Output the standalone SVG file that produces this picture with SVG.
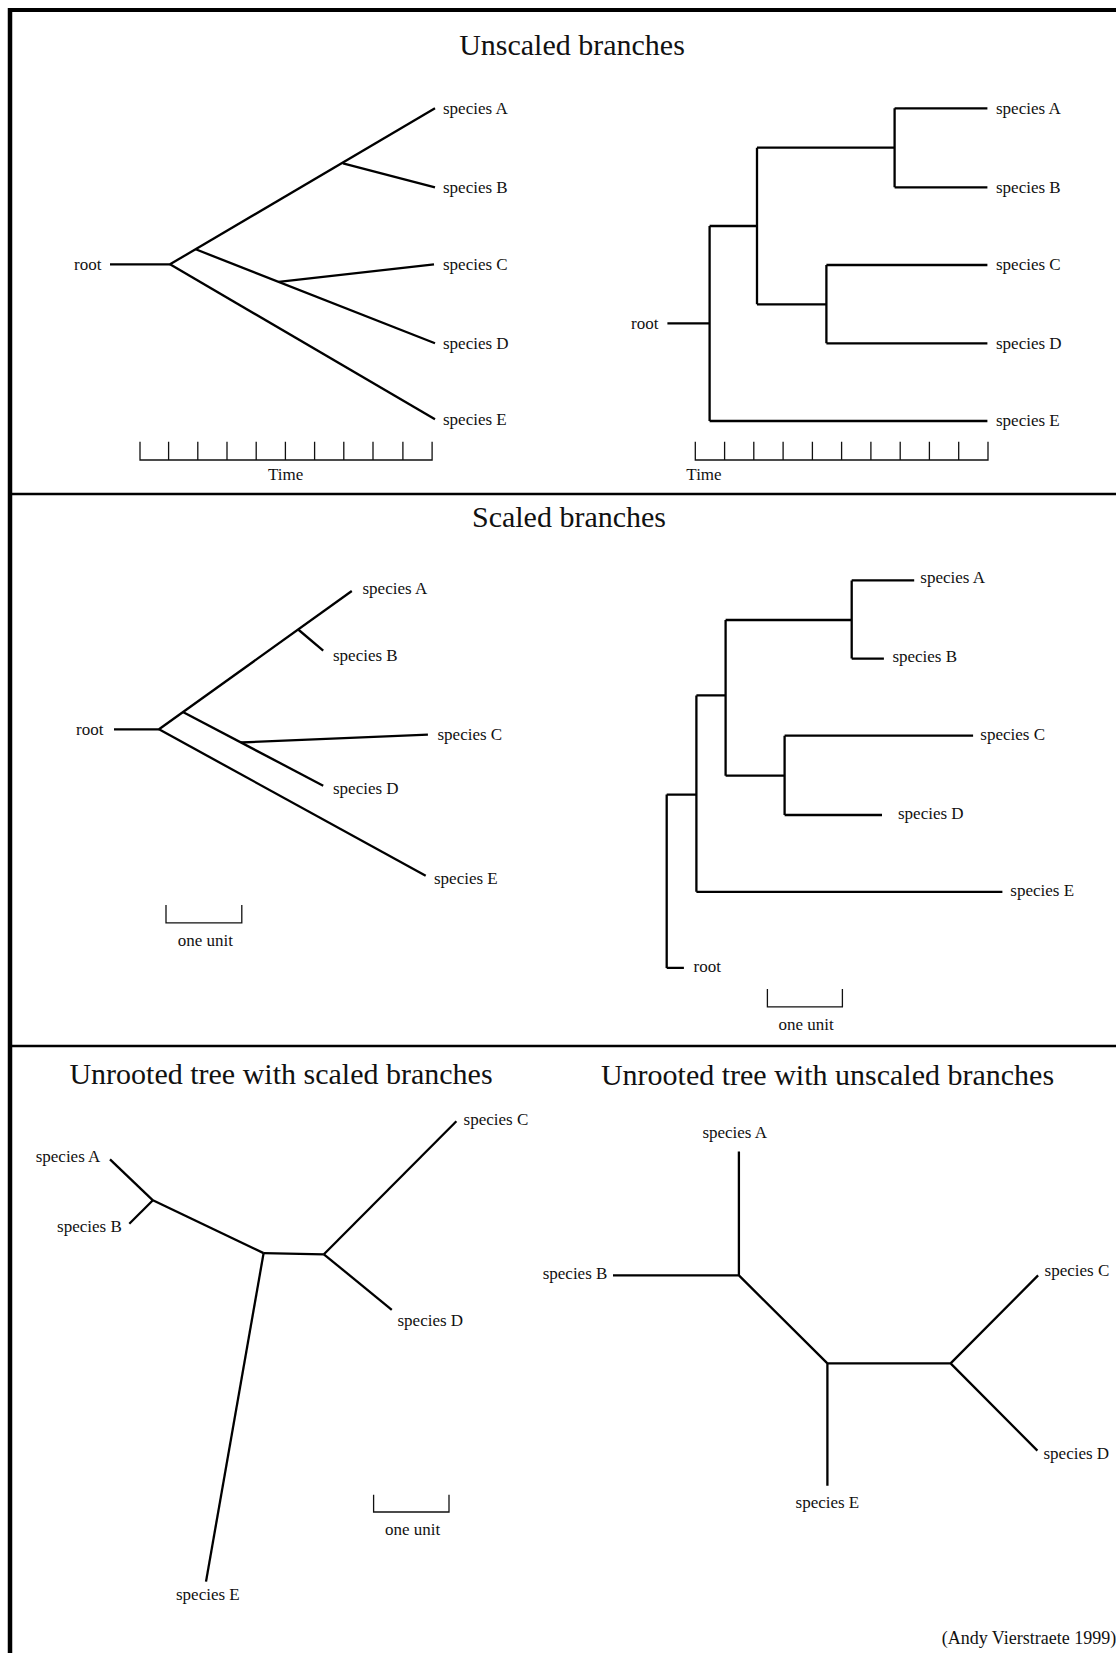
<svg xmlns="http://www.w3.org/2000/svg" width="1116" height="1653" viewBox="0 0 1116 1653">
<style>
text{font-family:"Liberation Serif","Times New Roman",serif;fill:#111}
.lbl{font-size:17px}
.ttl{font-size:30px;text-anchor:middle}
.mid{text-anchor:middle}
.br{stroke:#000;stroke-width:2.3;fill:none;stroke-linecap:butt}
.sc{stroke:#111;stroke-width:1.3;fill:none}
.frame{stroke:#000;fill:none}
</style>
<rect x="0" y="0" width="1116" height="1653" fill="#fff"/>
<g id="frame">
<line class="frame" x1="8" y1="10" x2="1116" y2="10" stroke-width="4"/>
<line class="frame" x1="10" y1="8" x2="10" y2="1653" stroke-width="4.5"/>
<line class="frame" x1="10" y1="494" x2="1116" y2="494" stroke-width="2.5"/>
<line class="frame" x1="10" y1="1046" x2="1116" y2="1046" stroke-width="2.5"/>
</g>

<!-- Panel 1: Unscaled branches -->
<text class="ttl" x="572" y="55">Unscaled branches</text>
<g id="p1-left">
<g id="p1l-connectors">
<line class="br" x1="110" y1="264.3" x2="170" y2="264.3"/>
<line class="br" x1="170" y1="264.3" x2="435" y2="108.3"/>
<line class="br" x1="343" y1="163.3" x2="435" y2="187.3"/>
<line class="br" x1="195.7" y1="249.3" x2="435" y2="343.3"/>
<line class="br" x1="278.6" y1="281.8" x2="434" y2="264.3"/>
<line class="br" x1="170" y1="264.3" x2="435" y2="419.3"/>
</g>
<g id="p1l-root"><text class="lbl" x="74" y="270">root</text></g>
<g id="p1l-A"><text class="lbl" x="443" y="114">species A</text></g>
<g id="p1l-B"><text class="lbl" x="443" y="193">species B</text></g>
<g id="p1l-C"><text class="lbl" x="443" y="270">species C</text></g>
<g id="p1l-D"><text class="lbl" x="443" y="349">species D</text></g>
<g id="p1l-E"><text class="lbl" x="443" y="425">species E</text></g>
<g id="p1l-time">
<path class="sc" d="M140,441.7V460H432.1V441.7M168.6,441.7V460M197.8,441.7V460M227,441.7V460M256.2,441.7V460M285.4,441.7V460M314.6,441.7V460M343.8,441.7V460M373,441.7V460M402.9,441.7V460"/>
<text class="lbl mid" x="285.7" y="480">Time</text>
</g>
</g>

<g id="p1-right">
<g id="p1r-connectors">
<path class="br" d="M667.4,323.3H709.6M709.6,226V421M709.6,226H757M757,147.7V304.3M757,147.7H894.6M894.6,108.3V187.3M894.6,108.3H987.4M894.6,187.3H987.4M757,304.3H826.4M826.4,265V343.3M826.4,265H987.4M826.4,343.3H987.4M709.6,421H987.4"/>
</g>
<g id="p1r-root"><text class="lbl" x="631" y="329">root</text></g>
<g id="p1r-A"><text class="lbl" x="996" y="114">species A</text></g>
<g id="p1r-B"><text class="lbl" x="996" y="193">species B</text></g>
<g id="p1r-C"><text class="lbl" x="996" y="270">species C</text></g>
<g id="p1r-D"><text class="lbl" x="996" y="349">species D</text></g>
<g id="p1r-E"><text class="lbl" x="996" y="426">species E</text></g>
<g id="p1r-time">
<path class="sc" d="M695.3,441.7V460H988V441.7M724.6,441.7V460M753.8,441.7V460M783.1,441.7V460M812.4,441.7V460M841.6,441.7V460M870.9,441.7V460M900.2,441.7V460M929.4,441.7V460M958.7,441.7V460"/>
<text class="lbl mid" x="704" y="480">Time</text>
</g>
</g>

<!-- Panel 2: Scaled branches -->
<text class="ttl" x="569" y="527">Scaled branches</text>
<g id="p2-left">
<g id="p2l-connectors">
<line class="br" x1="114" y1="729.3" x2="159" y2="729.3"/>
<line class="br" x1="159" y1="729.3" x2="351.8" y2="591"/>
<line class="br" x1="298.2" y1="629.5" x2="323.2" y2="650.7"/>
<line class="br" x1="182.9" y1="712" x2="323.2" y2="785.7"/>
<line class="br" x1="241" y1="742.5" x2="427.9" y2="734.6"/>
<line class="br" x1="159" y1="729.3" x2="425.7" y2="875.7"/>
</g>
<g id="p2l-root"><text class="lbl" x="76" y="735">root</text></g>
<g id="p2l-A"><text class="lbl" x="362.5" y="594">species A</text></g>
<g id="p2l-B"><text class="lbl" x="333" y="661">species B</text></g>
<g id="p2l-C"><text class="lbl" x="437.5" y="740">species C</text></g>
<g id="p2l-D"><text class="lbl" x="333" y="794">species D</text></g>
<g id="p2l-E"><text class="lbl" x="434" y="884">species E</text></g>
<g id="p2l-unit">
<path class="sc" d="M166,905V922.9H241.8V905"/>
<text class="lbl mid" x="205.4" y="946">one unit</text>
</g>
</g>

<g id="p2-right">
<g id="p2r-connectors">
<path class="br" d="M851.7,580.4H914.2M851.7,580.4V658.6M851.7,658.6H883.9M725.6,620H851.7M725.6,620V775.7M725.6,775.7H784.6M784.6,735.7V815M784.6,735.7H973.1M784.6,815H882M696.4,695.4H725.6M696.4,695.4V891.8M696.4,891.8H1002.4M666.7,794.6H696.4M666.7,794.6V967.9M666.7,967.9H683.9"/>
</g>
<g id="p2r-root"><text class="lbl" x="693.5" y="972">root</text></g>
<g id="p2r-A"><text class="lbl" x="920.3" y="583">species A</text></g>
<g id="p2r-B"><text class="lbl" x="892.4" y="662">species B</text></g>
<g id="p2r-C"><text class="lbl" x="980.3" y="740">species C</text></g>
<g id="p2r-D"><text class="lbl" x="898" y="819">species D</text></g>
<g id="p2r-E"><text class="lbl" x="1010.3" y="896">species E</text></g>
<g id="p2r-unit">
<path class="sc" d="M767.4,988.9V1006.8H842.4V988.9"/>
<text class="lbl mid" x="806" y="1030">one unit</text>
</g>
</g>

<!-- Panel 3 -->
<text class="ttl" x="281" y="1084">Unrooted tree with scaled branches</text>
<g id="p3-left">
<g id="p3l-connectors">
<line class="br" x1="110" y1="1159.3" x2="152.9" y2="1200.3"/>
<line class="br" x1="152.9" y1="1200.3" x2="129.3" y2="1223.8"/>
<line class="br" x1="152.9" y1="1200.3" x2="263.6" y2="1253.1"/>
<line class="br" x1="263.6" y1="1253.1" x2="323.9" y2="1254.3"/>
<line class="br" x1="323.9" y1="1254.3" x2="456.4" y2="1121.3"/>
<line class="br" x1="323.9" y1="1254.3" x2="391.8" y2="1309.8"/>
<line class="br" x1="263.6" y1="1253.1" x2="206" y2="1581.6"/>
</g>
<g id="p3l-A"><text class="lbl" x="35.7" y="1162">species A</text></g>
<g id="p3l-B"><text class="lbl" x="57.1" y="1232">species B</text></g>
<g id="p3l-C"><text class="lbl" x="463.6" y="1125">species C</text></g>
<g id="p3l-D"><text class="lbl" x="397.5" y="1326">species D</text></g>
<g id="p3l-E"><text class="lbl" x="176" y="1600">species E</text></g>
<g id="p3l-unit">
<path class="sc" d="M373.6,1494.8V1512H449V1494.8"/>
<text class="lbl mid" x="412.5" y="1535">one unit</text>
</g>
</g>

<text class="ttl" x="827.5" y="1085">Unrooted tree with unscaled branches</text>
<g id="p3-right">
<g id="p3r-connectors">
<path class="br" d="M738.9,1151.5V1275.4M613,1275.4H738.9M738.9,1275.4L827.4,1363.4M827.4,1363.4H950.6M827.4,1363.4V1485.8M950.6,1363.4L1038.1,1275.4M950.6,1363.4L1037.4,1450.6"/>
</g>
<g id="p3r-A"><text class="lbl" x="702.4" y="1138">species A</text></g>
<g id="p3r-B"><text class="lbl" x="542.7" y="1279">species B</text></g>
<g id="p3r-C"><text class="lbl" x="1044.6" y="1276">species C</text></g>
<g id="p3r-D"><text class="lbl" x="1043.5" y="1459">species D</text></g>
<g id="p3r-E"><text class="lbl mid" x="827.4" y="1508">species E</text></g>
</g>

<g id="credit"><text x="941.7" y="1644" style="font-size:18px">(Andy Vierstraete 1999)</text></g>
</svg>
